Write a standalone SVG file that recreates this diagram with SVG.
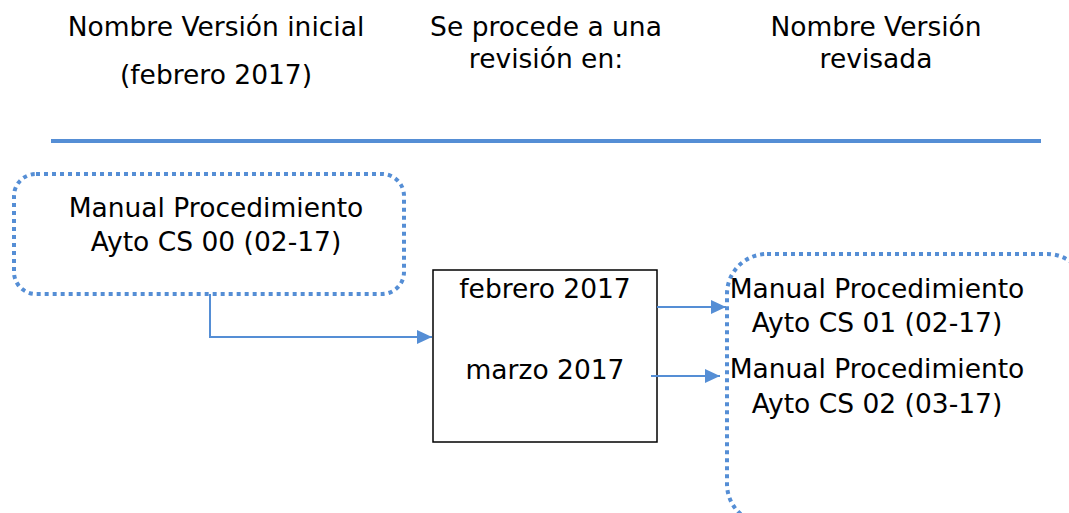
<svg xmlns="http://www.w3.org/2000/svg" width="1069" height="513" viewBox="0 0 1069 513">
<style>
text{font-family:"DejaVu Sans",Verdana,sans-serif;font-size:26.5px;fill:#000;text-anchor:middle}
.dot{fill:none;stroke:#558ED5;stroke-width:4;stroke-dasharray:4 4}
.con{fill:none;stroke:#558ED5;stroke-width:2}
</style>
<defs>
<marker id="arr" viewBox="0 0 15 14" refX="15" refY="7" markerWidth="15" markerHeight="14" markerUnits="userSpaceOnUse" orient="auto">
<path d="M0,0 L15,7 L0,14 Z" fill="#558ED5"/>
</marker>
</defs>
<rect width="1069" height="513" fill="#fff"/>
<g id="header">
<text x="216" y="36">Nombre Versión inicial</text>
<text x="216" y="84">(febrero 2017)</text>
<text x="546" y="36">Se procede a una</text>
<text x="546" y="68">revisión en:</text>
<text x="876" y="36">Nombre Versión</text>
<text x="876" y="68">revisada</text>
<line x1="51" y1="141" x2="1041" y2="141" stroke="#558ED5" stroke-width="4"/>
</g>
<g id="initial">
<rect class="dot" x="14" y="174" width="390" height="120" rx="22"/>
<text x="216" y="217">Manual Procedimiento</text>
<text x="216" y="251">Ayto CS 00 (02-17)</text>
</g>
<g id="revision">
<rect x="433" y="270" width="224" height="172" fill="#fff" stroke="#000" stroke-width="1.5"/>
<text x="545" y="298">febrero 2017</text>
<text x="545" y="379">marzo 2017</text>
</g>
<g id="revised">
<rect class="dot" x="727" y="254" width="360" height="270" rx="40"/>
<text x="877" y="298">Manual Procedimiento</text>
<text x="877" y="332">Ayto CS 01 (02-17)</text>
<text x="877" y="378">Manual Procedimiento</text>
<text x="877" y="413">Ayto CS 02 (03-17)</text>
</g>
<g id="connectors">
<path class="con" d="M210,294 V337 H432" marker-end="url(#arr)"/>
<path class="con" d="M657,307 H726" marker-end="url(#arr)"/>
<path class="con" d="M651,376 H720" marker-end="url(#arr)"/>
</g>
</svg>
